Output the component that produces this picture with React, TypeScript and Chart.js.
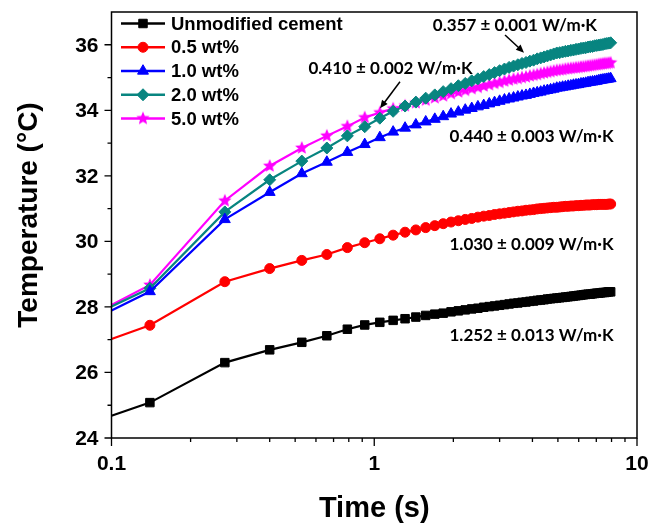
import React, { useEffect, useRef } from 'react';
import { Chart, registerables } from 'chart.js';
import { drawPoint } from 'chart.js/helpers';

Chart.register(...registerables);

// ---- data ----
const times = [0.1, 0.14, 0.27, 0.40, 0.53, 0.66, 0.79, 0.92, 1.05, 1.18, 1.31, 1.44, 1.57, 1.70, 1.83, 1.96, 2.09, 2.22, 2.35, 2.48, 2.61, 2.74, 2.87, 3.00, 3.13, 3.26, 3.39, 3.52, 3.65, 3.78, 3.91, 4.04, 4.17, 4.30, 4.43, 4.56, 4.69, 4.82, 4.95, 5.08, 5.21, 5.34, 5.47, 5.60, 5.73, 5.86, 5.99, 6.12, 6.25, 6.38, 6.51, 6.64, 6.77, 6.90, 7.03, 7.16, 7.29, 7.42, 7.55, 7.68, 7.81, 7.94];

const unmodified = [24.68, 25.08, 26.30, 26.69, 26.92, 27.12, 27.32, 27.45, 27.53, 27.59, 27.64, 27.69, 27.74, 27.78, 27.81, 27.85, 27.88, 27.91, 27.94, 27.96, 27.99, 28.01, 28.03, 28.05, 28.07, 28.09, 28.11, 28.12, 28.14, 28.15, 28.17, 28.18, 28.20, 28.21, 28.22, 28.24, 28.25, 28.26, 28.27, 28.28, 28.29, 28.30, 28.31, 28.32, 28.33, 28.34, 28.35, 28.36, 28.37, 28.38, 28.39, 28.39, 28.40, 28.41, 28.42, 28.42, 28.43, 28.44, 28.44, 28.45, 28.46, 28.46];

const wt05 = [27.02, 27.44, 28.77, 29.17, 29.42, 29.60, 29.81, 29.96, 30.08, 30.19, 30.28, 30.35, 30.42, 30.48, 30.54, 30.59, 30.63, 30.67, 30.70, 30.74, 30.77, 30.79, 30.82, 30.84, 30.86, 30.88, 30.90, 30.92, 30.93, 30.95, 30.96, 30.97, 30.99, 31.00, 31.01, 31.02, 31.03, 31.04, 31.04, 31.05, 31.06, 31.07, 31.07, 31.08, 31.08, 31.09, 31.09, 31.10, 31.10, 31.11, 31.11, 31.11, 31.12, 31.12, 31.12, 31.13, 31.13, 31.13, 31.13, 31.13, 31.14, 31.14];

const wt10 = [27.89, 28.47, 30.67, 31.50, 32.07, 32.42, 32.72, 32.96, 33.17, 33.34, 33.46, 33.56, 33.65, 33.73, 33.81, 33.89, 33.95, 34.01, 34.06, 34.11, 34.15, 34.20, 34.24, 34.28, 34.32, 34.35, 34.38, 34.41, 34.44, 34.46, 34.49, 34.52, 34.54, 34.56, 34.59, 34.61, 34.63, 34.65, 34.68, 34.69, 34.71, 34.72, 34.74, 34.75, 34.77, 34.78, 34.79, 34.81, 34.82, 34.83, 34.85, 34.86, 34.87, 34.88, 34.89, 34.91, 34.92, 34.93, 34.94, 34.95, 34.96, 34.97];

const wt20 = [28.01, 28.57, 30.90, 31.88, 32.45, 32.85, 33.22, 33.50, 33.76, 33.97, 34.13, 34.25, 34.37, 34.47, 34.57, 34.66, 34.75, 34.82, 34.90, 34.96, 35.03, 35.09, 35.15, 35.21, 35.26, 35.31, 35.35, 35.39, 35.43, 35.46, 35.50, 35.53, 35.57, 35.60, 35.63, 35.66, 35.69, 35.72, 35.75, 35.76, 35.78, 35.80, 35.81, 35.83, 35.84, 35.86, 35.87, 35.89, 35.90, 35.91, 35.93, 35.94, 35.95, 35.97, 35.98, 35.99, 36.00, 36.01, 36.03, 36.04, 36.05, 36.06];

const wt50 = [28.06, 28.67, 31.24, 32.30, 32.85, 33.22, 33.51, 33.78, 33.93, 34.05, 34.14, 34.23, 34.31, 34.38, 34.44, 34.51, 34.56, 34.61, 34.66, 34.70, 34.74, 34.78, 34.82, 34.85, 34.89, 34.92, 34.95, 34.97, 35.00, 35.02, 35.05, 35.07, 35.09, 35.12, 35.14, 35.16, 35.18, 35.20, 35.22, 35.23, 35.24, 35.26, 35.27, 35.28, 35.29, 35.30, 35.31, 35.32, 35.33, 35.34, 35.35, 35.36, 35.37, 35.38, 35.39, 35.40, 35.41, 35.42, 35.43, 35.43, 35.44, 35.45];

const seriesNames = ['Unmodified cement', '0.5 wt%', '1.0 wt%', '2.0 wt%', '5.0 wt%'];
const seriesValues = [unmodified, wt05, wt10, wt20, wt50];
const seriesColors = ['#000000', '#ff0000', '#0000ff', '#088580', '#ff00ff'];

const yMajorTicks = [24, 26, 28, 30, 32, 34, 36];
const yMinorTicks = [25, 27, 29, 31, 33, 35];
const xMajorTicks = [0.1, 1, 10];
const xMinorTicks = [0.2, 0.3, 0.4, 0.5, 0.6, 0.7, 0.8, 0.9, 2, 3, 4, 5, 6, 7, 8, 9];
const xTickLabels = ['0.1', '1', '10'];

const xTitle = 'Time (s)';
const yTitle = 'Temperature (°C)';

const noteTexts = [
  '0.357 ± 0.001 W/m·K',
  '0.410 ± 0.002 W/m·K',
  '0.440 ± 0.003 W/m·K',
  '1.030 ± 0.009 W/m·K',
  '1.252 ± 0.013 W/m·K',
];

const FONT = '"Liberation Sans", Arial, sans-serif';
const NOTE_FONT = 'Lato, "Open Sans", sans-serif';

function makeStar(color: string, r: number) {
  const size = Math.ceil(r * 2 + 2);
  const c = document.createElement('canvas');
  c.width = size;
  c.height = size;
  const g = c.getContext('2d')!;
  g.beginPath();
  for (let i = 0; i < 10; i++) {
    const ang = -Math.PI / 2 + (i * Math.PI) / 5;
    const rr = i % 2 === 0 ? r : r * 0.45;
    g.lineTo(size / 2 + rr * Math.cos(ang), size / 2 + rr * Math.sin(ang));
  }
  g.closePath();
  g.fillStyle = color;
  g.fill();
  return c;
}

export default function App() {
  const canvasRef = useRef<HTMLCanvasElement | null>(null);

  useEffect(() => {
    const canvas = canvasRef.current!;
    const star = makeStar('#ff00ff', 7);
    const styles: any[] = ['rect', 'circle', 'triangle', 'rectRot', star];
    const radii = [6, 5, 6.3, 6, 7];

    const datasets = seriesNames.map((name, i) => ({
      label: name,
      data: times.map((t, k) => ({ x: t, y: seriesValues[i][k] })),
      borderColor: seriesColors[i],
      backgroundColor: seriesColors[i],
      pointBackgroundColor: seriesColors[i],
      pointBorderColor: seriesColors[i],
      borderWidth: 2.2,
      pointStyle: styles[i],
      pointRadius: times.map((_, k) => (k === 0 ? 0 : radii[i])),
      pointBorderWidth: 1,
      tension: 0,
    }));

    const notes = [
      { text: noteTexts[0], x: 3.43, y: 36.6 },
      { text: noteTexts[1], x: 1.153, y: 35.29 },
      { text: noteTexts[2], x: 3.97, y: 33.19 },
      { text: noteTexts[3], x: 3.97, y: 29.89 },
      { text: noteTexts[4], x: 3.97, y: 27.14 },
    ];
    const arrows = [
      { x1: 3.146, y1: 36.3, x2: 3.715, y2: 35.76 },
      { x1: 1.253, y1: 34.87, x2: 1.052, y2: 34.06 },
    ];

    const decor = {
      id: 'decor',
      afterDraw(chart: any) {
        const ctx = chart.ctx as CanvasRenderingContext2D;
        const { left, right, top, bottom } = chart.chartArea;
        const xs = chart.scales.x;
        const ys = chart.scales.y;
        ctx.save();
        ctx.strokeStyle = '#000';
        ctx.fillStyle = '#000';
        ctx.lineWidth = 1.5;
        ctx.strokeRect(left, top, right - left, bottom - top);

        // ticks
        ctx.lineWidth = 1.3;
        ctx.beginPath();
        yMajorTicks.forEach((v) => {
          const p = ys.getPixelForValue(v);
          ctx.moveTo(left - 7, p);
          ctx.lineTo(left, p);
        });
        yMinorTicks.forEach((v) => {
          const p = ys.getPixelForValue(v);
          ctx.moveTo(left - 4, p);
          ctx.lineTo(left, p);
        });
        xMajorTicks.forEach((v) => {
          const p = xs.getPixelForValue(v);
          ctx.moveTo(p, bottom);
          ctx.lineTo(p, bottom + 8);
        });
        xMinorTicks.forEach((v) => {
          const p = xs.getPixelForValue(v);
          ctx.moveTo(p, bottom);
          ctx.lineTo(p, bottom + 4);
        });
        ctx.stroke();

        ctx.font = `bold 21px ${FONT}`;
        ctx.textAlign = 'right';
        ctx.textBaseline = 'middle';
        yMajorTicks.forEach((v) => {
          ctx.fillText(String(v), left - 13, ys.getPixelForValue(v) + 1);
        });
        ctx.textAlign = 'center';
        xMajorTicks.forEach((v, i) => {
          ctx.fillText(xTickLabels[i], xs.getPixelForValue(v), bottom + 26);
        });

        // titles
        ctx.font = `bold 29px ${FONT}`;
        ctx.fillText(xTitle, (left + right) / 2, 509);
        ctx.save();
        ctx.translate(29, 215);
        ctx.rotate(-Math.PI / 2);
        ctx.font = `bold 28px ${FONT}`;
        ctx.fillText(yTitle, 0, 0);
        ctx.restore();

        // legend
        ctx.font = `bold 18.5px ${FONT}`;
        ctx.textAlign = 'left';
        seriesNames.forEach((name, i) => {
          const yy = 23.5 + i * 23.75;
          ctx.strokeStyle = seriesColors[i];
          ctx.fillStyle = seriesColors[i];
          ctx.lineWidth = 2.5;
          ctx.beginPath();
          ctx.moveTo(121, yy);
          ctx.lineTo(165, yy);
          ctx.stroke();
          ctx.lineWidth = 1;
          drawPoint(ctx, { pointStyle: styles[i], radius: radii[i], rotation: 0, borderWidth: 1 }, 143, yy);
          ctx.fillStyle = '#000';
          ctx.fillText(name, 171, yy + 1);
        });

        // notes
        ctx.fillStyle = '#000';
        ctx.strokeStyle = '#000';
        ctx.font = `bold 17px ${NOTE_FONT}`;
        ctx.textAlign = 'center';
        notes.forEach((n) => {
          ctx.fillText(n.text, xs.getPixelForValue(n.x), ys.getPixelForValue(n.y));
        });
        arrows.forEach((a) => {
          const x1 = xs.getPixelForValue(a.x1);
          const y1 = ys.getPixelForValue(a.y1);
          const x2 = xs.getPixelForValue(a.x2);
          const y2 = ys.getPixelForValue(a.y2);
          const ang = Math.atan2(y2 - y1, x2 - x1);
          const hl = 8;
          const hw = 3.5;
          ctx.lineWidth = 1.5;
          ctx.beginPath();
          ctx.moveTo(x1, y1);
          ctx.lineTo(x2 - hl * Math.cos(ang) * 0.8, y2 - hl * Math.sin(ang) * 0.8);
          ctx.stroke();
          ctx.beginPath();
          ctx.moveTo(x2, y2);
          ctx.lineTo(x2 - hl * Math.cos(ang) + hw * Math.sin(ang), y2 - hl * Math.sin(ang) - hw * Math.cos(ang));
          ctx.lineTo(x2 - hl * Math.cos(ang) - hw * Math.sin(ang), y2 - hl * Math.sin(ang) + hw * Math.cos(ang));
          ctx.closePath();
          ctx.fill();
        });
        ctx.restore();
      },
    };

    const chart = new Chart(canvas, {
      type: 'line',
      data: { datasets: datasets as any },
      options: {
        animation: false,
        responsive: false,
        devicePixelRatio: 1,
        layout: { padding: { top: 12, right: 14, left: 0, bottom: 0 } },
        plugins: { legend: { display: false }, tooltip: { enabled: false } },
        scales: {
          x: {
            type: 'logarithmic',
            min: 0.1,
            max: 10,
            ticks: { display: false },
            grid: { display: false },
            border: { display: false },
            afterFit: (s: any) => {
              s.height = 87;
            },
          },
          y: {
            type: 'linear',
            min: 24,
            max: 37,
            ticks: { display: false },
            grid: { display: false },
            border: { display: false },
            afterFit: (s: any) => {
              s.width = 111.5;
            },
          },
        },
      },
      plugins: [decor],
    });

    return () => {
      chart.destroy();
    };
  }, []);

  return (
    <div style={{ position: 'absolute', left: 0, top: 0, width: 651, height: 525, background: '#fff' }}>
      <canvas ref={canvasRef} width={651} height={525} style={{ display: 'block' }} />
    </div>
  );
}
